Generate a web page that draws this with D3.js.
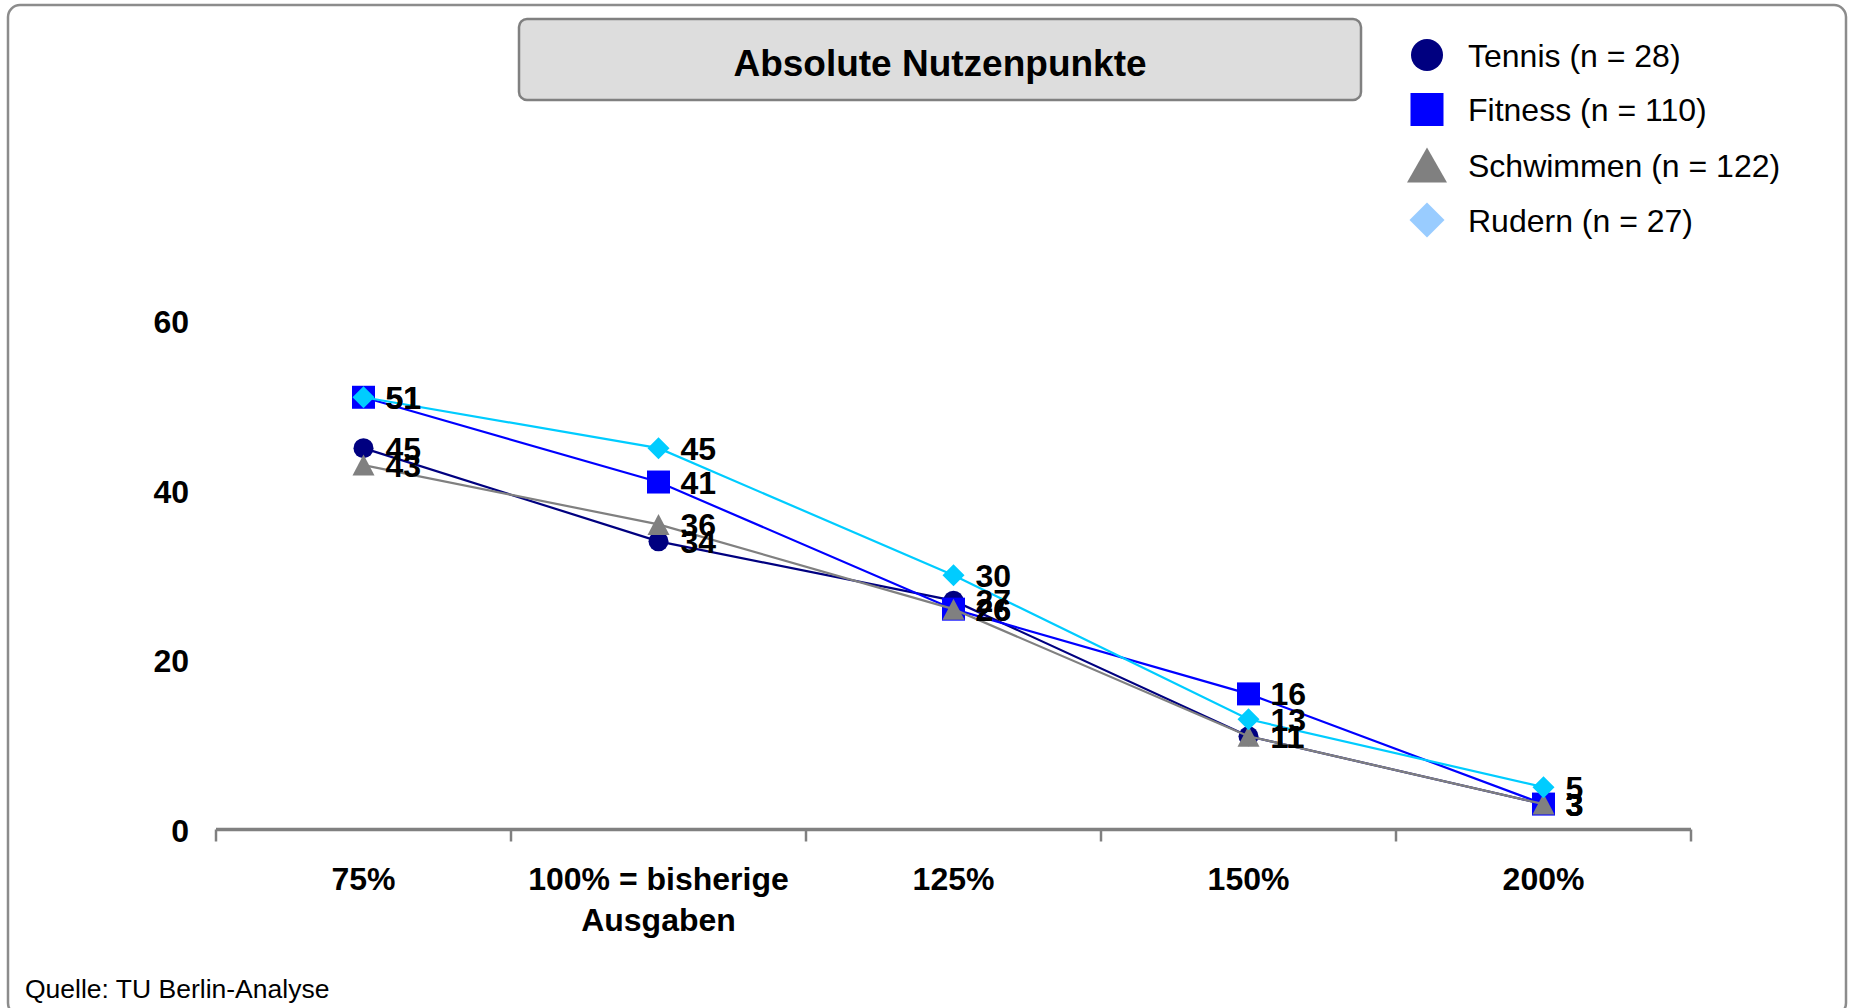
<!DOCTYPE html>
<html>
<head>
<meta charset="utf-8">
<script src="https://cdn.jsdelivr.net/npm/d3@7"></script>
<style>
  html, body { margin: 0; padding: 0; background: #ffffff; }
  svg { display: block; }
  text { font-family: "Liberation Sans", Arial, Helvetica, sans-serif; }
</style>
</head>
<body>
<svg id="chart" width="1850" height="1008"></svg>
<script>
// ---- data ----
const categories = ["75%", "100% = bisherige\nAusgaben", "125%", "150%", "200%"];
const seriesNames = ["Tennis (n = 28)", "Fitness (n = 110)", "Schwimmen (n = 122)", "Rudern (n = 27)"];
const tennis    = [45, 34, 27, 11, 3];
const fitness   = [51, 41, 26, 16, 3];
const schwimmen = [43, 36, 26, 11, 3];
const rudern    = [51, 45, 30, 13, 5];
const yTicks = [0, 20, 40, 60];
const titleText = "Absolute Nutzenpunkte";
const sourceText = "Quelle: TU Berlin-Analyse";

const seriesValues = [tennis, fitness, schwimmen, rudern];
const seriesColors = ["#000080", "#0000FF", "#808080", "#00CCFF"];
const legendColors = ["#000080", "#0000FF", "#808080", "#99CCFF"];
const seriesShapes = ["circle", "square", "triangle", "diamond"];

const svg = d3.select("#chart");

// outer frame
svg.append("rect")
  .attr("x", 8).attr("y", 5).attr("width", 1838).attr("height", 1010)
  .attr("rx", 12).attr("ry", 12)
  .attr("fill", "#ffffff").attr("stroke", "#8c8c8c").attr("stroke-width", 2.5);

// title box
svg.append("rect")
  .attr("x", 519).attr("y", 19).attr("width", 842).attr("height", 81)
  .attr("rx", 8).attr("ry", 8)
  .attr("fill", "#dddddd").attr("stroke", "#808080").attr("stroke-width", 2.5);
svg.append("text")
  .attr("x", 940).attr("y", 76)
  .attr("text-anchor", "middle")
  .attr("font-size", 37).attr("font-weight", "bold").attr("fill", "#000")
  .text(titleText);

// scales
const x = d3.scaleBand().domain(categories).range([216, 1691]).padding(0);
const y = d3.scaleLinear().domain([0, 60]).range([829.5, 321]);
const cx = c => x(c) + x.bandwidth() / 2;

// shape generator (bbox-centred)
function shapePath(shape, w, h) {
  const p = d3.path();
  if (shape === "circle") {
    p.moveTo(w / 2, 0); p.arc(0, 0, w / 2, 0, 2 * Math.PI);
  } else if (shape === "square") {
    p.rect(-w / 2, -h / 2, w, h);
  } else if (shape === "triangle") {
    p.moveTo(0, -h / 2); p.lineTo(w / 2, h / 2); p.lineTo(-w / 2, h / 2); p.closePath();
  } else {
    p.moveTo(0, -h / 2); p.lineTo(w / 2, 0); p.lineTo(0, h / 2); p.lineTo(-w / 2, 0); p.closePath();
  }
  return p.toString();
}
const markerSize = { circle: [20, 20], square: [23, 23], triangle: [22, 21], diamond: [22, 22] };
const legendSize = { circle: [32, 32], square: [33, 33], triangle: [40, 35], diamond: [35, 35] };

// y axis labels (no line)
const yAxis = d3.axisLeft(y).tickValues(yTicks).tickSize(0).tickPadding(27).tickFormat(d3.format("d"));
const gy = svg.append("g").attr("transform", "translate(216,0)").call(yAxis);
gy.select(".domain").remove();
gy.selectAll("text")
  .attr("font-family", "'Liberation Sans', Arial, sans-serif")
  .attr("font-size", 32).attr("font-weight", "bold").attr("fill", "#000")
  .attr("dy", "0.36em");

// x axis line with ticks at band boundaries
const xr = x.range();
const gx = svg.append("g");
gx.append("line")
  .attr("x1", xr[0]).attr("x2", xr[1]).attr("y1", y(0)).attr("y2", y(0))
  .attr("stroke", "#808080").attr("stroke-width", 3.5);
const boundaries = categories.map(c => x(c)).concat([xr[1]]);
gx.selectAll("line.tick").data(boundaries).enter().append("line")
  .attr("class", "tick")
  .attr("x1", d => d).attr("x2", d => d)
  .attr("y1", y(0)).attr("y2", y(0) + 12)
  .attr("stroke", "#808080").attr("stroke-width", 2.5);

// category labels
const catText = gx.selectAll("text.cat").data(categories).enter().append("text")
  .attr("class", "cat")
  .attr("text-anchor", "middle")
  .attr("font-size", 32).attr("font-weight", "bold").attr("fill", "#000");
catText.each(function (c) {
  const lines = c.split("\n");
  d3.select(this).selectAll("tspan").data(lines).enter().append("tspan")
    .attr("x", cx(c))
    .attr("y", (d, i) => 890 + i * 41)
    .text(d => d);
});

// series
const line = d3.line().x((d, i) => cx(categories[i])).y(d => y(d));
seriesValues.forEach((vals, si) => {
  const g = svg.append("g");
  g.append("path").datum(vals)
    .attr("d", line)
    .attr("fill", "none")
    .attr("stroke", seriesColors[si]).attr("stroke-width", 2.2);
  const shape = seriesShapes[si];
  const [w, h] = markerSize[shape];
  g.selectAll("path.mk").data(vals).enter().append("path")
    .attr("class", "mk")
    .attr("d", shapePath(shape, w, h))
    .attr("transform", (d, i) => `translate(${cx(categories[i])},${y(d)})`)
    .attr("fill", seriesColors[si]);
});

// value labels
seriesValues.forEach((vals) => {
  svg.append("g").selectAll("text").data(vals).enter().append("text")
    .attr("x", (d, i) => cx(categories[i]) + 22)
    .attr("y", d => y(d) + 11.5)
    .attr("font-size", 32).attr("font-weight", "bold").attr("fill", "#000")
    .text(d => d);
});

// legend
const legendRows = [55, 109.5, 165, 220];
const lg = svg.append("g");
seriesNames.forEach((name, si) => {
  const shape = seriesShapes[si];
  const [w, h] = legendSize[shape];
  lg.append("path")
    .attr("d", shapePath(shape, w, h))
    .attr("transform", `translate(1427,${legendRows[si]})`)
    .attr("fill", legendColors[si]);
  lg.append("text")
    .attr("x", 1468).attr("y", legendRows[si] + 11.5)
    .attr("font-size", 32).attr("fill", "#000")
    .text(name);
});

// source
svg.append("text")
  .attr("x", 25).attr("y", 998)
  .attr("font-size", 26.5).attr("fill", "#000")
  .text(sourceText);
</script>
</body>
</html>
